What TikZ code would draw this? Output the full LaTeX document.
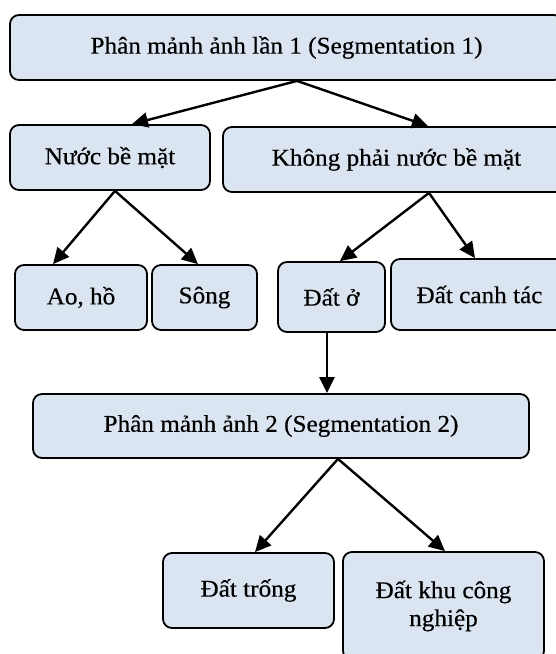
\documentclass[tikz,border=0pt]{standalone}
\usepackage{fontspec}
\setmainfont[FakeStretch=1.05,FakeBold=0.4]{Liberation Serif}
\usetikzlibrary{arrows.meta}
\definecolor{boxfill}{RGB}{219,229,241}
\tikzset{
  box/.style={draw=black, line width=1.8pt, fill=boxfill, rounded corners=9pt,
    align=center, inner sep=0pt, font=\fontsize{24}{28}\selectfont},
  arr/.style={line width=2.4pt, -{Triangle[length=16pt,width=15pt]}}
}
\begin{document}
\begin{tikzpicture}[x=1pt,y=-1pt]
\useasboundingbox (0,0) rectangle (556,654);
\clip (0,0) rectangle (556,654);
\node[box, minimum width=553pt, minimum height=65pt] (A) at (286.5,47.5) {Phân mảnh ảnh lần 1 (Segmentation 1)};
\node[box, minimum width=200pt, minimum height=65pt] (B1) at (110,157.5) {Nước bề mặt};
\node[box, minimum width=347pt, minimum height=65pt] (B2) at (396.5,159.5) {Không phải nước bề mặt};
\node[box, minimum width=132pt, minimum height=65pt] (C1) at (81,297.5) {Ao, hồ};
\node[box, minimum width=105pt, minimum height=65pt] (C2) at (204.5,297.5) {Sông};
\node[box, minimum width=107pt, minimum height=70pt] (C3) at (331.5,297) {Đất ở};
\node[box, minimum width=177pt, minimum height=71pt] (C4) at (479.5,294.5) {Đất canh tác};
\node[box, minimum width=496pt, minimum height=64pt] (D) at (281,426) {Phân mảnh ảnh 2 (Segmentation 2)};
\node[box, minimum width=171pt, minimum height=75pt] (E1) at (248.5,590.5) {Đất trống};
\node[box, minimum width=201pt, minimum height=108pt] (E2) at (443.5,606) {Đất khu công\\nghiệp};
\draw[arr] ([xshift=10.5pt]A.south) -- ([xshift=22pt]B1.north);
\draw[arr] ([xshift=10.5pt]A.south) -- ([xshift=31.5pt]B2.north);
\draw[arr] ([xshift=5pt]B1.south) -- ([xshift=-28pt]C1.north);
\draw[arr] ([xshift=5pt]B1.south) -- ([xshift=-6.5pt]C2.north);
\draw[arr] ([xshift=32.5pt]B2.south) -- ([xshift=8.5pt]C3.north);
\draw[arr] ([xshift=32.5pt]B2.south) -- ([xshift=-4.5pt]C4.north);
\draw[arr] ([xshift=-4.5pt]C3.south) -- ([xshift=46pt]D.north);
\draw[arr] ([xshift=57pt]D.south) -- ([xshift=6.5pt]E1.north);
\draw[arr] ([xshift=57pt]D.south) -- ([xshift=1.5pt]E2.north);
\end{tikzpicture}
\end{document}
